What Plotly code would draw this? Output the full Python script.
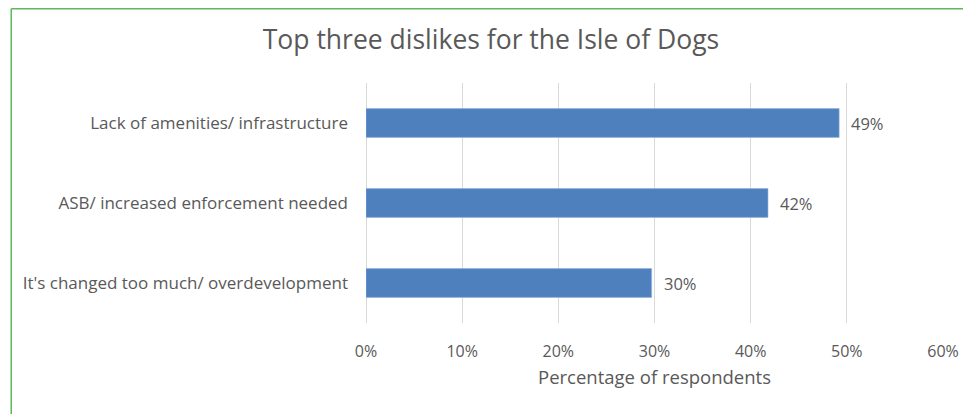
import plotly.graph_objects as go

categories = ["Lack of amenities/ infrastructure",
              "ASB/ increased enforcement needed",
              "It's changed too much/ overdevelopment"]
values = [0.492, 0.418, 0.297]
labels = ["49%", "42%", "30%"]
tick_vals = [0, 0.1, 0.2, 0.3, 0.4, 0.5, 0.6]
tick_text = ["0%", "10%", "20%", "30%", "40%", "50%", "60%"]

FONT = "Open Sans, Noto Sans, sans-serif"
GREY = "#595959"

fig = go.Figure()
fig.add_trace(go.Bar(
    x=values, y=categories, orientation="h",
    marker=dict(color="#4e80bd", line=dict(width=0.6, color="#8eaedb")),
    width=0.36, hoverinfo="skip",
))

for v, c, t in zip(values, categories, labels):
    fig.add_annotation(x=v, y=c, text=t, showarrow=False, xanchor="left",
                       xshift=10, font=dict(family=FONT, size=16.5, color=GREY))

# page has an 8px body margin; figure coordinates = page coordinates - 8
W, H = 963, 406
L, T, B = 357.5, 75, 91
R = W - L - 580.2
pw, ph = W - L - R, H - T - B

fig.update_layout(
    width=W, height=H,
    margin=dict(l=L, r=R, t=T, b=B),
    paper_bgcolor="white", plot_bgcolor="white",
    showlegend=False,
    title=dict(text="Top three dislikes for the Isle of Dogs",
               x=483 / W, xanchor="center", y=1 - 32 / H, yanchor="middle",
               font=dict(family=FONT, size=26.5, color=GREY)),
    xaxis=dict(range=[0, 0.6], tickvals=tick_vals, ticktext=tick_text,
               showgrid=True, gridcolor="#d9d9d9", gridwidth=1,
               zeroline=True, zerolinecolor="#d9d9d9", zerolinewidth=1,
               showline=False, ticks="", ticklabelstandoff=17,
               tickfont=dict(family=FONT, size=16, color=GREY),
               title=dict(text="Percentage of respondents", standoff=10,
                          font=dict(family=FONT, size=18.5, color=GREY)),
               fixedrange=True),
    yaxis=dict(categoryorder="array", categoryarray=categories[::-1],
               showgrid=False, zeroline=False, showline=False, ticks="",
               ticklabelstandoff=17,
               tickfont=dict(family=FONT, size=17, color=GREY),
               fixedrange=True),
)

# green chart border (left and top edges visible in reference)
x0 = (0.75 - L) / pw
y1 = 1 + (T - 0.75) / ph
fig.add_shape(type="line", xref="paper", yref="paper",
              x0=x0, x1=x0, y0=-B / ph - 0.1, y1=y1,
              line=dict(color="#5cb85c", width=1.5))
fig.add_shape(type="line", xref="paper", yref="paper",
              x0=x0, x1=1 + R / pw + 0.1, y0=y1, y1=y1,
              line=dict(color="#5cb85c", width=1.5))

fig.write_html("out.html", config={"displayModeBar": False})
